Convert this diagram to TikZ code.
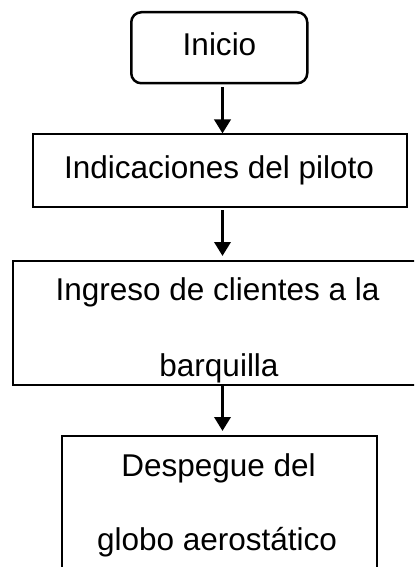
\documentclass[tikz,border=0pt]{standalone}
\usepackage{fontspec}
\setmainfont{Liberation Sans}
\usetikzlibrary{arrows.meta}
\begin{document}
\begin{tikzpicture}[x=1bp,y=-1bp,
  box/.style={draw=black, line width=2bp, inner sep=0pt, anchor=north west},
  txt/.style={font=\fontsize{31.5bp}{38bp}\selectfont, inner sep=0pt, anchor=base},
  arr/.style={line width=3.5bp, -{Triangle[width=16bp,length=14bp]}}]
\useasboundingbox (0,0) rectangle (414,567);
\clip (0,0) rectangle (414,567);
\node[box, rounded corners=10bp, line width=2.5bp, minimum width=176bp, minimum height=71bp] (inicio) at (130,11) {};
\node[txt] (tinicio) at (219.5,56) {Inicio};
\node[box, minimum width=374bp, minimum height=72.5bp] (ind) at (32,133.5) {};
\node[txt] (tind) at (219,178) {Indicaciones del piloto};
\node[box, minimum width=420bp, minimum height=124bp] (ing) at (12,260) {};
\node[txt] (ting1) at (217.5,300) {Ingreso de clientes a la};
\node[txt] (ting2) at (219,376) {barquilla};
\node[box, minimum width=315bp, minimum height=160bp] (desp) at (61,435) {};
\node[txt] (tdesp1) at (218.5,476) {Despegue del};
\node[txt] (tdesp2) at (217,550) {globo aerostático};
\coordinate (ax) at (222.5,0);
\draw[arr, shorten <=3bp] (inicio.south -| ax) -- (ind.north -| ax);
\draw[arr, shorten <=2bp] (ind.south -| ax) -- ([yshift=4bp]ing.north -| ax);
\draw[arr, shorten <=-1bp, shorten >=4bp] (ing.south -| ax) -- (desp.north -| ax);
\end{tikzpicture}
\end{document}
